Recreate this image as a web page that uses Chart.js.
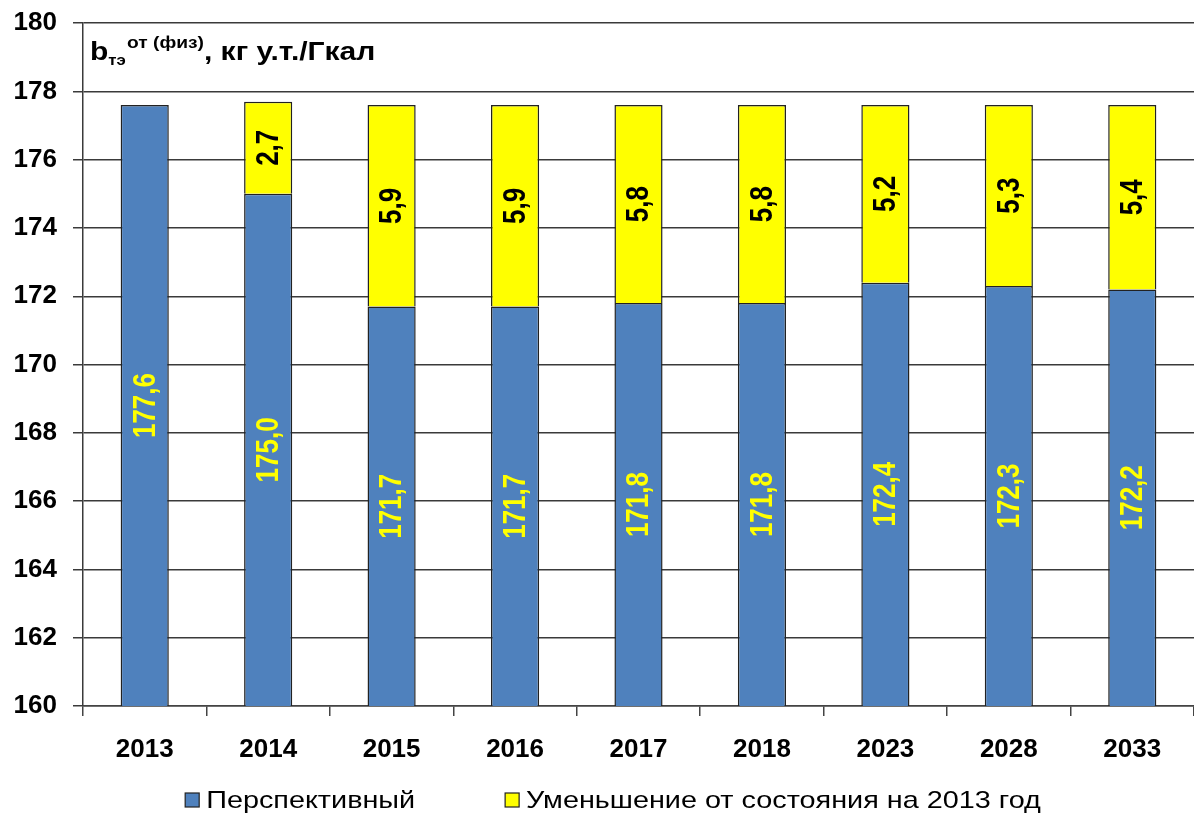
<!DOCTYPE html>
<html>
<head>
<meta charset="utf-8">
<script src="https://cdn.jsdelivr.net/npm/chart.js@4.4.0/dist/chart.umd.min.js"></script>
<style>
  html, body { margin: 0; padding: 0; background: #fff; }
  #wrap { width: 1194px; height: 816px; }
</style>
</head>
<body>
<div id="wrap"><canvas id="chart1"></canvas></div>
<script>
// data
var years = ['2013', '2014', '2015', '2016', '2017', '2018', '2023', '2028', '2033'];
var perspective = [177.6, 175.0, 171.7, 171.7, 171.8, 171.8, 172.4, 172.3, 172.2];
var decrease = [null, 2.7, 5.9, 5.9, 5.8, 5.8, 5.2, 5.3, 5.4];
var yTicks = [160, 162, 164, 166, 168, 170, 172, 174, 176, 178, 180];

var FONT = 'Arial, "Liberation Sans", sans-serif';
var STRETCH = 1.2; // the source picture is a bit wider than tall

// draws values inside the bars, turned by 90 degrees
var barLabels = {
  id: 'barLabels',
  afterDatasetsDraw: function(chart) {
    var ctx = chart.ctx;
    var area = chart.chartArea;
    ctx.save();
    ctx.font = 'bold 26px ' + FONT;
    ctx.textAlign = 'center';
    ctx.textBaseline = 'middle';
    chart.data.datasets.forEach(function(ds, i) {
      chart.getDatasetMeta(i).data.forEach(function(bar, j) {
        var v = ds.data[j];
        if (v === null || v === undefined) return;
        var bottom = Math.min(bar.base, area.bottom);
        var cy = (bar.y + bottom) / 2;
        ctx.save();
        ctx.translate(bar.x, cy);
        ctx.scale(STRETCH, 1);
        ctx.rotate(-Math.PI / 2);
        ctx.fillStyle = i === 0 ? '#ffff00' : '#000';
        ctx.fillText(v.toFixed(1).replace('.', ','), 0, 1);
        ctx.restore();
      });
    });
    ctx.restore();
  }
};

// unit caption in the top left corner of the plot
var unitTitle = {
  id: 'unitTitle',
  afterDraw: function(chart) {
    var ctx = chart.ctx;
    ctx.save();
    ctx.fillStyle = '#000';
    ctx.textBaseline = 'alphabetic';
    ctx.translate(90, 60);
    ctx.scale(STRETCH, 1);
    var x = 0;
    ctx.font = 'bold 25px ' + FONT;
    ctx.fillText('b', x, 0);
    x += ctx.measureText('b').width;
    ctx.font = 'bold 14px ' + FONT;
    ctx.fillText('тэ', x, 5);
    x += ctx.measureText('тэ').width + 1;
    ctx.font = 'bold 16px ' + FONT;
    ctx.fillText('от (физ)', x, -12);
    x += ctx.measureText('от (физ)').width;
    ctx.font = 'bold 25px ' + FONT;
    ctx.fillText(', кг у.т./Гкал', x, 0);
    ctx.restore();
  }
};

// legend under the axis, laid out like the source
var bottomLegend = {
  id: 'bottomLegend',
  afterDraw: function(chart) {
    var ctx = chart.ctx;
    var sets = chart.data.datasets;
    var box = 14, gapText = 7, gapItem = 90, cy = 800;
    ctx.save();
    ctx.font = '24px ' + FONT;
    ctx.textBaseline = 'middle';
    var widths = sets.map(function(ds) { return ctx.measureText(ds.label).width * STRETCH; });
    var total = 0;
    widths.forEach(function(w, i) { total += box + gapText + w + (i ? gapItem : 0); });
    var x = 613 - total / 2;
    sets.forEach(function(ds, i) {
      ctx.fillStyle = ds.backgroundColor;
      ctx.fillRect(x, cy - box / 2, box, box);
      ctx.strokeStyle = '#222';
      ctx.lineWidth = 1.2;
      ctx.strokeRect(x, cy - box / 2, box, box);
      x += box + gapText;
      ctx.save();
      ctx.translate(x, cy + 1);
      ctx.scale(STRETCH, 1);
      ctx.fillStyle = '#000';
      ctx.fillText(ds.label, 0, 0);
      ctx.restore();
      x += widths[i] + gapItem;
    });
    ctx.restore();
  }
};

var c1 = document.getElementById('chart1').getContext('2d');
var btChart = new Chart(c1, {
  type: 'bar',
  data: {
    labels: years,
    datasets: [{
      label: 'Перспективный',
      data: perspective,
      backgroundColor: '#4f81bd',
      borderColor: '#222',
      borderWidth: 1.5,
      barPercentage: 0.39,
      categoryPercentage: 1.0
    }, {
      label: 'Уменьшение от состояния на 2013 год',
      data: decrease,
      backgroundColor: '#ffff00',
      borderColor: '#222',
      borderWidth: 1.5,
      barPercentage: 0.39,
      categoryPercentage: 1.0
    }]
  },
  options: {
    responsive: true,
    maintainAspectRatio: false,
    animation: false,
    layout: { padding: { top: 0, right: 0, bottom: 0, left: 0 } },
    plugins: {
      tooltip: { enabled: false },
      legend: { display: false }
    },
    scales: {
      x: {
        stacked: true,
        afterFit: function(scale) { scale.height = 110; },
        grid: {
          drawOnChartArea: false,
          drawTicks: true,
          tickLength: 10,
          color: '#444',
          lineWidth: 1.5
        },
        border: { display: true, color: '#444', width: 1.5 },
        ticks: {
          font: { family: FONT, size: 26, weight: 'bold' },
          color: '#000',
          padding: 18,
          maxRotation: 0
        }
      },
      y: {
        stacked: true,
        min: 160,
        max: 180,
        afterFit: function(scale) { scale.width = 83; },
        afterBuildTicks: function(scale) {
          scale.ticks = yTicks.map(function(v) { return { value: v }; });
        },
        grid: {
          color: '#3a3a3a',
          lineWidth: 1.5,
          drawTicks: true,
          tickLength: 10
        },
        border: { display: true, color: '#3a3a3a', width: 1.5 },
        ticks: {
          font: { family: FONT, size: 26, weight: 'bold', lineHeight: 0.55 },
          color: '#000',
          padding: 16
        }
      }
    }
  },
  plugins: [barLabels, unitTitle, bottomLegend]
});
</script>
</body>
</html>
